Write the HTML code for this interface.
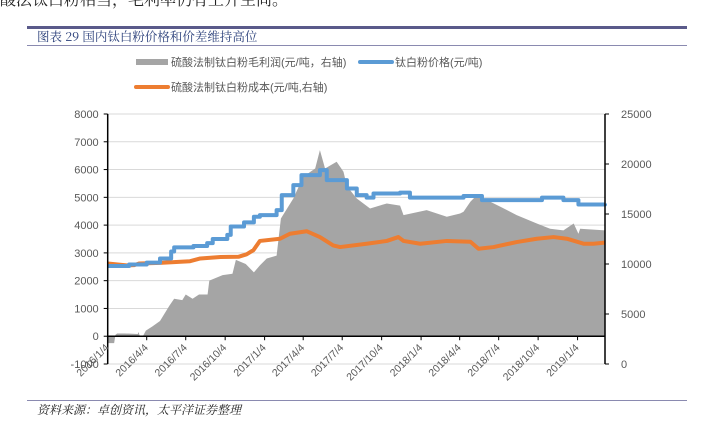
<!DOCTYPE html>
<html><head><meta charset="utf-8"><style>
body{margin:0;background:#fff;width:702px;height:433px;overflow:hidden;font-family:"Liberation Sans","Noto Sans CJK SC",sans-serif;}
</style></head><body>
<svg width="702" height="433" viewBox="0 0 702 433" xmlns="http://www.w3.org/2000/svg">
<text x="0" y="5" font-size="16" fill="#222" font-family="Noto Serif CJK SC, serif">酸法钛白粉相当，毛利率仍有上升空间。</text>
<rect x="27" y="26" width="660" height="3" fill="#5a5a8a"/>
<text x="37" y="41" font-size="12.5" fill="#2a3f7a" font-family="Noto Serif CJK SC, serif">图表 29 国内钛白粉价格和价差维持高位</text>
<line x1="27" y1="45.5" x2="687" y2="45.5" stroke="#8a8ab0" stroke-width="1"/>
<g font-size="11" fill="#595959">
<rect x="136" y="59" width="32" height="6" fill="#a5a5a5"/>
<text x="171" y="66">硫酸法制钛白粉毛利润(元/吨，右轴)</text>
<line x1="360" y1="62" x2="392" y2="62" stroke="#5b9bd5" stroke-width="4" stroke-linecap="round"/>
<text x="395" y="66">钛白粉价格(元/吨)</text>
<line x1="136" y1="87" x2="168" y2="87" stroke="#ed7d31" stroke-width="4" stroke-linecap="round"/>
<text x="171" y="91">硫酸法制钛白粉成本(元/吨,右轴)</text>
</g>
<g id="plot"></g>
<line x1="27" y1="400.5" x2="687" y2="400.5" stroke="#8a8ab0" stroke-width="1"/>
<text x="37" y="414" font-size="12" font-style="italic" fill="#222" font-family="Noto Serif CJK SC, serif">资料来源：卓创资讯，太平洋证券整理</text>
</svg>
<script>
const leftTicks=[-1000,0,1000,2000,3000,4000,5000,6000,7000,8000];
const rightTicks=[0,5000,10000,15000,20000,25000];
const xTickLabels=["2016/1/4","2016/4/4","2016/7/4","2016/10/4","2017/1/4","2017/4/4","2017/7/4","2017/10/4","2018/1/4","2018/4/4","2018/7/4","2018/10/4","2019/1/4"];
const xTickDays=[0,91,182,274,366,456,547,639,731,821,912,1004,1096];
const marginDays=[0,15,18,22,40,70,72,75,78,82,89,104,122,132,144,155,174,182,198,213,233,237,268,291,299,322,341,355,371,394,404,433,456,484,495,507,534,550,558,581,612,651,682,690,744,791,822,830,846,861,877,916,954,1001,1032,1063,1087,1098,1102,1160];
const marginVals=[-250,-250,50,100,100,80,150,0,0,0,200,350,550,800,1100,1350,1300,1500,1350,1500,1500,2000,2200,2250,2750,2600,2300,2550,2800,2900,4240,4960,5740,6040,6700,6040,6280,5920,5400,4960,4600,4780,4700,4360,4540,4300,4420,4480,4840,5080,4960,4660,4360,4060,3870,3810,4060,3690,3870,3810];
const priceDays=[0,50,91,122,148,155,200,232,245,279,287,318,341,355,394,406,433,452,495,511,558,581,604,620,682,705,822,830,861,873,1001,1013,1048,1063,1090,1098,1160];
const priceVals=[2530,2580,2650,2800,3050,3200,3250,3350,3500,3650,3950,4100,4300,4360,4540,5080,5440,5800,5980,5620,5320,5080,4990,5140,5170,4990,4990,5050,5050,4900,4900,4990,4990,4900,4900,4740,4780];
const costDays=[0,44,62,74,122,192,216,263,305,324,340,355,402,425,464,495,526,542,604,651,678,690,729,791,846,865,900,954,1001,1040,1071,1110,1133,1160];
const costVals=[2620,2550,2560,2620,2640,2700,2800,2850,2860,2950,3100,3430,3510,3690,3780,3570,3270,3210,3330,3430,3570,3430,3330,3430,3400,3150,3210,3390,3510,3570,3510,3330,3330,3370];

const X0=107.7,X1=605,DAYS=1160,YT=114,YB=364;
const xS=d=>X0+d*(X1-X0)/DAYS;
const yL=v=>YB-(v+1000)*(YB-YT)/9000;
const yR=v=>YB-v*(YB-YT)/25000;
const NS="http://www.w3.org/2000/svg";
const g=document.getElementById('plot');
function mk(t,a){const e=document.createElementNS(NS,t);for(const k in a)e.setAttribute(k,a[k]);g.appendChild(e);return e;}
leftTicks.forEach(v=>{
  if(v!==-1000&&v!==0){const l=mk('line',{x1:X0,x2:X1,y1:yL(v),y2:yL(v),stroke:'#d9d9d9','stroke-width':1});
  
  }
  const t=mk('text',{x:X0-9,y:yL(v)+4,'text-anchor':'end','font-size':11,fill:'#595959'});t.textContent=v;
  
  
  const tk=mk('line',{x1:X0-4,x2:X0,y1:yL(v),y2:yL(v),stroke:'#000'});
  
  
});
rightTicks.forEach(v=>{
  const t=mk('text',{x:X1+16,y:yR(v)+4,'font-size':11,fill:'#595959'});t.textContent=v;
  
  
  const tk=mk('line',{x1:X1,x2:X1+4,y1:yR(v),y2:yR(v),stroke:'#000'});
  
  
});
let p='M'+xS(marginDays[0])+','+yL(0);
marginDays.forEach((d,i)=>{p+=' L'+xS(d)+','+yL(marginVals[i]);});
p+=' L'+xS(marginDays[marginDays.length-1])+','+yL(0)+' Z';
const ar=mk('path',{d:p,fill:'#a5a5a5'});


const za=mk('line',{x1:X0,x2:X1,y1:yL(0),y2:yL(0),stroke:'#000','stroke-width':1.5});


const ba=mk('line',{x1:X0,x2:X1,y1:YB,y2:YB,stroke:'#d9d9d9'});


function line(days,vals,col,name,step){
  let pts=[];
  days.forEach((d,i)=>{
    if(step&&i>0)pts.push(xS(d)+','+yL(vals[i-1]));
    pts.push(xS(d)+','+yL(vals[i]));
  });
  const l=mk('polyline',{points:pts.join(' '),fill:'none',stroke:col,'stroke-width':4,'stroke-linejoin':'round'});
  
  
}
line(costDays,costVals,'#ed7d31','cost-line',false);
line(priceDays,priceVals,'#5b9bd5','price-line',true);
const la=mk('line',{x1:X0,x2:X0,y1:YT,y2:YB,stroke:'#000','stroke-width':1.5});


const ra=mk('line',{x1:X1,x2:X1,y1:YT,y2:YB,stroke:'#000','stroke-width':1.5});


xTickDays.forEach((d,i)=>{
  const x=xS(d);
  const tk=mk('line',{x1:x,x2:x,y1:yL(0),y2:yL(0)+4,stroke:'#000'});
  
  
  const t=mk('text',{x:x+2,y:yL(0)+12,'text-anchor':'end','font-size':10.5,fill:'#595959',transform:'rotate(-45 '+(x+2)+' '+(yL(0)+12)+')'});
  t.textContent=xTickLabels[i];
  
  
});
</script>
</body></html>
